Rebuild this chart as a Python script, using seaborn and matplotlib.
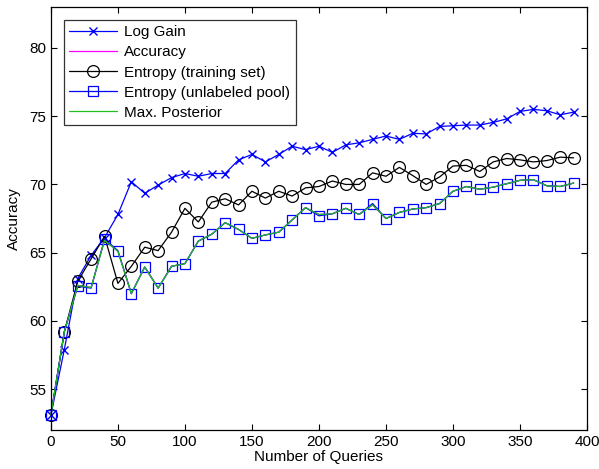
import numpy as np
import pandas as pd
import seaborn as sns
import matplotlib.pyplot as plt

# number of queries
queries = list(range(0, 400, 10))

log_gain = [53.1, 57.9, 63.1, 64.8, 66.1, 67.8, 70.2, 69.35, 69.95, 70.5,
            70.8, 70.6, 70.8, 70.8, 71.8, 72.2, 71.65, 72.2, 72.8, 72.55,
            72.8, 72.35, 72.9, 73.05, 73.3, 73.55, 73.3, 73.75, 73.7, 74.25,
            74.3, 74.35, 74.35, 74.55, 74.8, 75.35, 75.5, 75.4, 75.1, 75.3]

entropy_train = [53.1, 59.2, 62.9, 64.55, 66.2, 62.75, 64.0, 65.4, 65.15, 66.5,
                 68.25, 67.25, 68.7, 68.95, 68.5, 69.5, 69.0, 69.5, 69.15, 69.75,
                 69.85, 70.25, 70.0, 70.0, 70.85, 70.6, 71.25, 70.65, 70.0, 70.55,
                 71.35, 71.4, 70.95, 71.65, 71.9, 71.8, 71.65, 71.75, 72.0, 71.95]

entropy_pool = [53.1, 59.2, 62.55, 62.4, 66.0, 65.15, 62.0, 63.95, 62.4, 64.0,
                64.2, 65.85, 66.35, 67.2, 66.7, 66.05, 66.3, 66.5, 67.4, 68.3,
                67.7, 67.85, 68.25, 67.8, 68.6, 67.5, 67.95, 68.2, 68.3, 68.6,
                69.5, 69.85, 69.65, 69.8, 70.05, 70.3, 70.35, 69.9, 69.85, 70.1]

max_posterior = [53.1, 59.2, 62.6, 62.45, 65.9, 65.1, 62.0, 63.95, 62.4, 64.0,
                 64.2, 65.85, 66.35, 67.2, 66.7, 66.05, 66.3, 66.5, 67.4, 68.3,
                 67.8, 67.85, 68.25, 67.8, 68.5, 67.5, 67.95, 68.2, 68.3, 68.6,
                 69.5, 69.85, 69.65, 69.8, 70.05, 70.3, 70.35, 69.9, 69.85, 70.1]

# accuracy curve is hidden under max posterior in the original
accuracy = list(max_posterior)

x_ticks = list(range(0, 401, 50))
y_ticks = [55, 60, 65, 70, 75, 80]


def plot_queries():
    sns.set_style("ticks", {"axes.edgecolor": "black", "text.color": "black",
                            "xtick.color": "black", "ytick.color": "black",
                            "axes.labelcolor": "black"})
    plt.rcParams['font.family'] = ['Liberation Sans', 'DejaVu Sans']
    plt.rcParams['xtick.direction'] = 'in'
    plt.rcParams['ytick.direction'] = 'in'

    fig = plt.figure(figsize=(5.99, 4.69), dpi=100)
    ax = fig.add_axes([0.085, 0.083, 0.895, 0.902])

    lw = 0.9
    sns.lineplot(x=queries, y=log_gain, ax=ax, color='#0000ff', lw=lw,
                 marker='x', markersize=6, markeredgewidth=1.0,
                 markeredgecolor='#0000ff', clip_on=False,
                 label='Log Gain')
    sns.lineplot(x=queries, y=accuracy, ax=ax, color='#ff00ff', lw=lw,
                 clip_on=False, label='Accuracy')
    sns.lineplot(x=queries, y=entropy_train, ax=ax, color='black', lw=lw,
                 marker='o', markersize=8.5, markerfacecolor='none',
                 markeredgecolor='black', markeredgewidth=0.9,
                 clip_on=False, label='Entropy (training set)')
    sns.lineplot(x=queries, y=entropy_pool, ax=ax, color='#0000ff', lw=lw,
                 marker='s', markersize=7, markerfacecolor='none',
                 markeredgecolor='#0000ff', markeredgewidth=0.9,
                 clip_on=False, label='Entropy (unlabeled pool)')
    sns.lineplot(x=queries, y=max_posterior, ax=ax, color='#1fc01f', lw=lw,
                 clip_on=False, label='Max. Posterior')

    ax.set_xlim(0, 400)
    ax.set_ylim(52, 83)
    ax.set_xticks(x_ticks)
    ax.set_yticks(y_ticks)
    ax.tick_params(labelsize=11, length=4, top=True, right=True)
    for s in ax.spines.values():
        s.set_visible(True)
        s.set_linewidth(0.9)
    ax.set_xlabel("Number of Queries", fontsize=11, labelpad=1)
    ax.set_ylabel("Accuracy", fontsize=11, labelpad=6)

    leg = ax.legend(loc='upper left', fontsize=11, handlelength=3.1,
                    frameon=True, fancybox=False, edgecolor='black',
                    borderaxespad=0.85, labelspacing=0.4, borderpad=0.35,
                    handletextpad=0.5)
    leg.get_frame().set_linewidth(0.9)

    fig.savefig("out.png", dpi=100)


if __name__ == "__main__":
    plot_queries()
